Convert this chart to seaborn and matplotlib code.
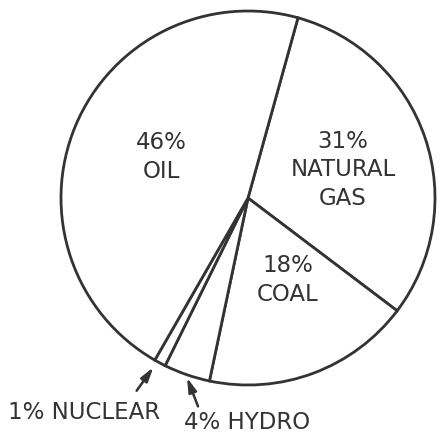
import matplotlib
matplotlib.use("Agg")
import matplotlib.pyplot as plt
import seaborn as sns

# Data
sources = ["NATURAL GAS", "COAL", "HYDRO", "NUCLEAR", "OIL"]
shares = [31, 18, 4, 1, 46]
inner_labels = {"OIL": "46%\nOIL", "NATURAL GAS": "31%\nNATURAL\nGAS", "COAL": "18%\nCOAL"}
outer_labels = {"NUCLEAR": "1% NUCLEAR", "HYDRO": "4% HYDRO"}

sns.set_theme(style="white")
plt.rcParams["font.family"] = ["DejaVu Sans"]

W, H = 442, 435
fig = plt.figure(figsize=(W / 100, H / 100), dpi=100)
ax = fig.add_axes([0, 0, 1, 1])
ink = "#333333"

cx, cy, r = 248, H - 199, 187
ax.pie(shares, startangle=74.5, counterclock=False, center=(cx, cy), radius=r,
       colors=["white"] * len(shares),
       wedgeprops=dict(edgecolor=ink, linewidth=2.0))
ax.set_xlim(0, W)
ax.set_ylim(0, H)
ax.set_aspect("equal")
ax.axis("off")

fs = 16.5
def t(x, y, s, **kw):
    ax.text(x, H - y, s, ha="center", va="center", color=ink, fontsize=fs,
            linespacing=1.3, **kw)

t(161, 157, inner_labels["OIL"])
t(343, 170, inner_labels["NATURAL GAS"])
t(288, 280, inner_labels["COAL"])

ax.text(8, H - 413, outer_labels["NUCLEAR"], ha="left", va="center", color=ink, fontsize=fs)
ax.text(184, H - 423, outer_labels["HYDRO"], ha="left", va="center", color=ink, fontsize=fs)

arrow = dict(arrowstyle="-|>,head_length=0.7,head_width=0.2", color=ink, lw=1.8)
ax.annotate("", xy=(155, H - 366), xytext=(135, H - 394), arrowprops=arrow)
ax.annotate("", xy=(186, H - 376), xytext=(199, H - 410), arrowprops=arrow)

fig.savefig("out.png", dpi=100, facecolor="white")
